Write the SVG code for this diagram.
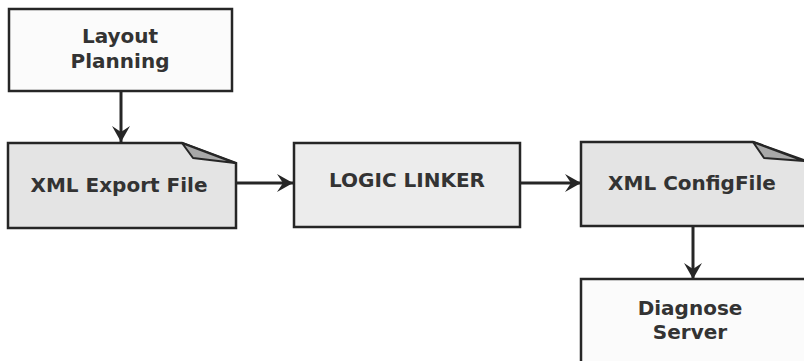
<svg xmlns="http://www.w3.org/2000/svg" width="804" height="361" viewBox="0 0 804 361">
<defs>
<style>
.box{stroke:#262626;stroke-width:2.5;stroke-linejoin:miter}
.white{fill:#fbfbfb}
.gray{fill:#e4e4e4}
.lgray{fill:#ececec}
.fold{fill:#a8a8a8;stroke:#262626;stroke-width:2;stroke-linejoin:round}
.t{font-family:"DejaVu Sans",Verdana,sans-serif;font-weight:bold;font-size:20px;fill:#333;text-anchor:middle}
.c{stroke:#262626;stroke-width:3;fill:none}
</style>
<marker id="ah" viewBox="0 0 20 20" refX="19" refY="10" markerWidth="20" markerHeight="20" markerUnits="userSpaceOnUse" orient="auto">
<path d="M19,10 L3,1 L9,10 L3,19 Z" fill="#262626"/>
</marker>
</defs>
<rect width="804" height="361" fill="#ffffff"/>
<g id="connectors">
<line class="c" x1="121" y1="92" x2="121" y2="142" marker-end="url(#ah)"/>
<line class="c" x1="237" y1="183" x2="293" y2="183" marker-end="url(#ah)"/>
<line class="c" x1="521" y1="183" x2="581" y2="183" marker-end="url(#ah)"/>
<line class="c" x1="693" y1="227" x2="693" y2="279" marker-end="url(#ah)"/>
</g>
<g id="layout-planning">
<rect class="box white" x="9" y="9" width="223" height="82"/>
<text class="t" x="120" y="43">Layout</text>
<text class="t" x="120" y="68">Planning</text>
</g>
<g id="xml-export-file">
<path class="box gray" d="M8,143 L182,143 L236,163 L236,228 L8,228 Z"/>
<path class="fold" d="M182,143 L193,158 L235,163 Z"/>
<text class="t" x="119" y="192">XML Export File</text>
</g>
<g id="logic-linker">
<rect class="box lgray" x="294" y="143" width="226" height="84"/>
<text class="t" x="407" y="187">LOGIC LINKER</text>
</g>
<g id="xml-configfile">
<path class="box gray" d="M581,142 L753,142 L806,161 L806,226 L581,226 Z"/>
<path class="fold" d="M753,142 L764,158 L804,161 Z"/>
<text class="t" x="692" y="190">XML ConfigFile</text>
</g>
<g id="diagnose-server">
<rect class="box white" x="581" y="279" width="230" height="90"/>
<text class="t" x="690" y="315">Diagnose</text>
<text class="t" x="690" y="339">Server</text>
</g>
</svg>
